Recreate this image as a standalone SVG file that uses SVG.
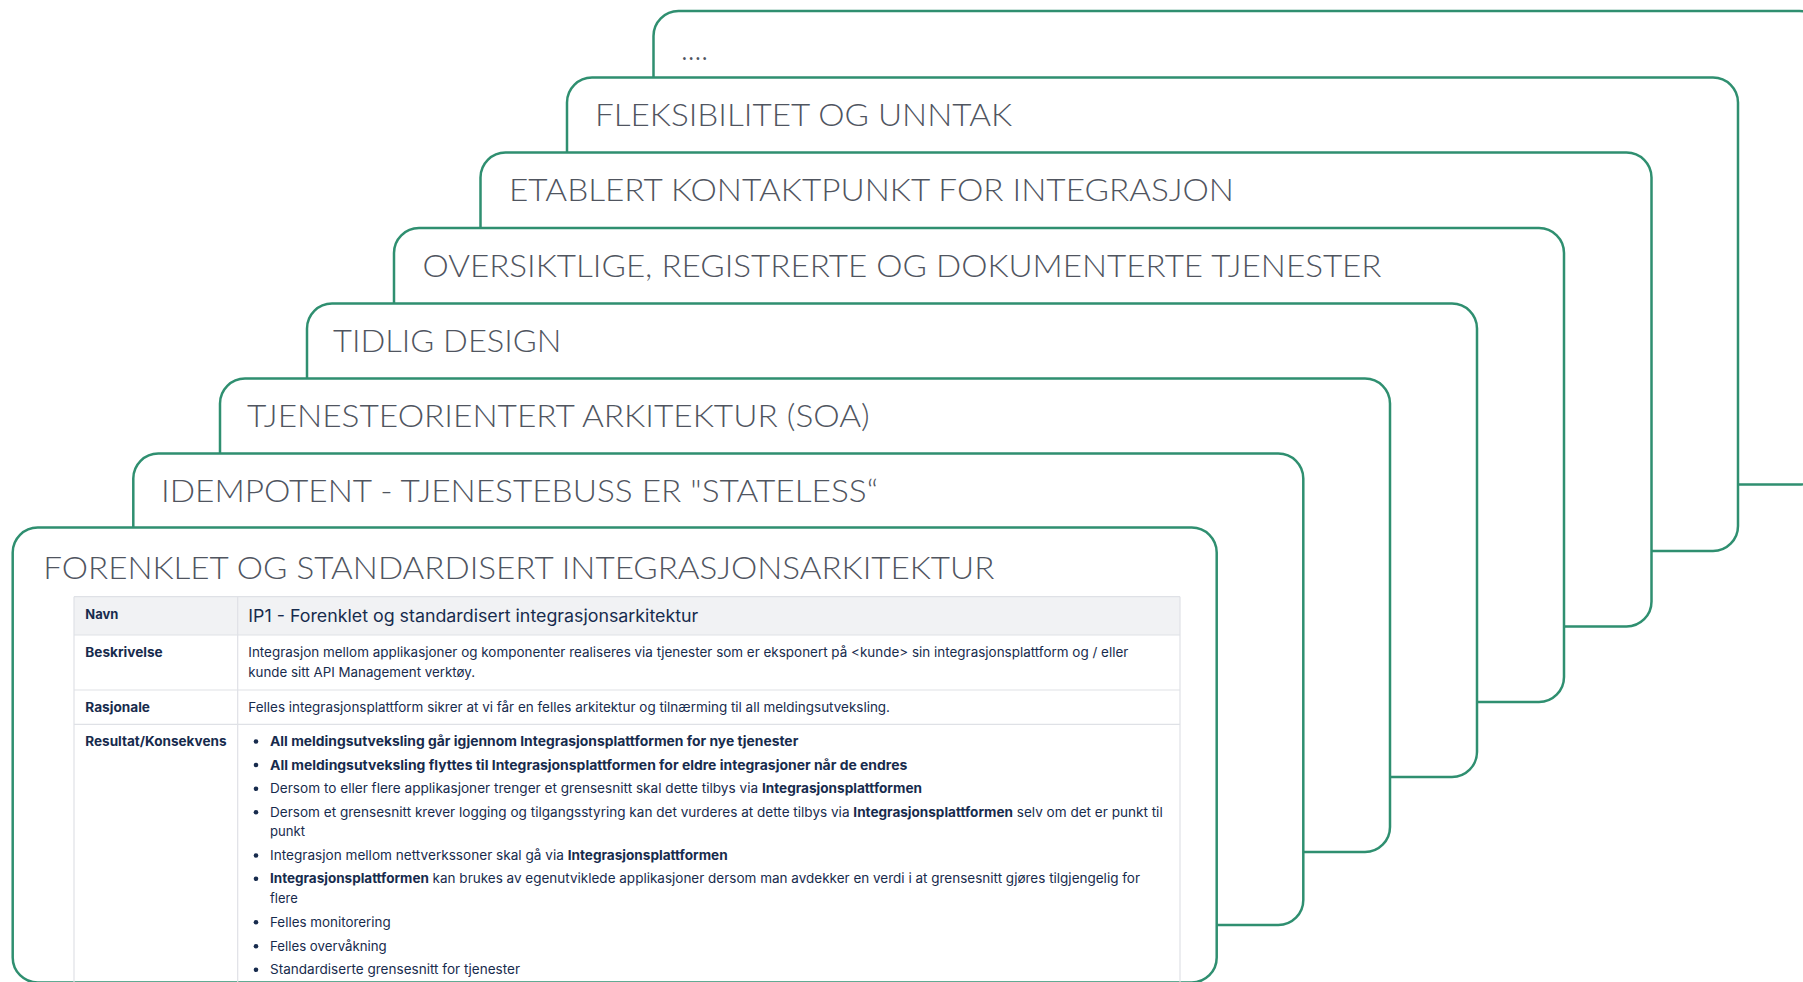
<svg xmlns="http://www.w3.org/2000/svg" width="1803" height="982" viewBox="0 0 1803 982">
<style>
.card{fill:#ffffff;stroke:#2f8f70;stroke-width:2.5}
.title{font-family:Lato,"Open Sans","Liberation Sans",sans-serif;font-weight:300;font-size:32px;fill:#50555f}
.tb{font-family:Inter,"Liberation Sans",sans-serif;font-size:13px;fill:#172b4d}
.b{font-weight:700}
.lbl{font-family:Inter,"Liberation Sans",sans-serif;font-size:13px;font-weight:700;fill:#172b4d}
.hd{font-family:Inter,"Liberation Sans",sans-serif;font-size:17px;fill:#172b4d}
.grid{stroke:#dfe1e6;stroke-width:1.2;fill:none}
.dot{fill:#172b4d}
</style>
<rect width="1803" height="982" fill="#ffffff"/>

<g id="card-more">
<rect class="card" x="653.5" y="11" width="1171" height="473.5" rx="25"/>
<text class="title" x="681" y="60" textLength="27" lengthAdjust="spacingAndGlyphs">....</text>
</g>

<g id="card-fleksibilitet">
<rect class="card" x="567" y="77.5" width="1171" height="473.5" rx="25"/>
<text class="title" x="595" y="126" textLength="417" lengthAdjust="spacingAndGlyphs">FLEKSIBILITET OG UNNTAK</text>
</g>

<g id="card-kontaktpunkt">
<rect class="card" x="480.5" y="152.5" width="1171" height="474" rx="25"/>
<text class="title" x="509" y="201" textLength="725" lengthAdjust="spacingAndGlyphs">ETABLERT KONTAKTPUNKT FOR INTEGRASJON</text>
</g>

<g id="card-oversiktlige">
<rect class="card" x="394" y="228" width="1170" height="474" rx="25"/>
<text class="title" x="422.5" y="277" textLength="959" lengthAdjust="spacingAndGlyphs">OVERSIKTLIGE, REGISTRERTE OG DOKUMENTERTE TJENESTER</text>
</g>

<g id="card-tidlig">
<rect class="card" x="307" y="303.5" width="1170" height="473.5" rx="25"/>
<text class="title" x="333" y="352" textLength="228.5" lengthAdjust="spacingAndGlyphs">TIDLIG DESIGN</text>
</g>

<g id="card-soa">
<rect class="card" x="220" y="378.5" width="1170" height="473.5" rx="25"/>
<text class="title" x="247" y="427" textLength="622.7" lengthAdjust="spacingAndGlyphs">TJENESTEORIENTERT ARKITEKTUR (SOA)</text>
</g>

<g id="card-idempotent">
<rect class="card" x="133.3" y="453.5" width="1170" height="471.5" rx="25"/>
<text class="title" x="161" y="502" textLength="717" lengthAdjust="spacingAndGlyphs">IDEMPOTENT - TJENESTEBUSS ER "STATELESS“</text>
</g>

<g id="card-forenklet">
<rect class="card" x="12.7" y="527.5" width="1204" height="455" rx="25"/>
<text class="title" x="43.3" y="579.3" textLength="951" lengthAdjust="spacingAndGlyphs">FORENKLET OG STANDARDISERT INTEGRASJONSARKITEKTUR</text>

<g id="table">
<rect x="74" y="596.7" width="1106" height="38.3" fill="#f1f2f4"/>
<path class="grid" d="M74 596.7H1180 M74 635H1180 M74 690H1180 M74 724.3H1180 M74 596.7V982 M237.7 596.7V982 M1180 596.7V982"/>

<text class="lbl" x="85.3" y="619" font-size="12.5" textLength="33" lengthAdjust="spacingAndGlyphs">Navn</text>
<text class="hd" x="248.3" y="621.7" textLength="450" lengthAdjust="spacingAndGlyphs">IP1 - Forenklet og standardisert integrasjonsarkitektur</text>

<text class="lbl" x="85.3" y="657.3" textLength="77.4" lengthAdjust="spacingAndGlyphs">Beskrivelse</text>
<text class="tb" x="248.3" y="657.3" textLength="880" lengthAdjust="spacingAndGlyphs">Integrasjon mellom applikasjoner og komponenter realiseres via tjenester som er eksponert på &lt;kunde&gt; sin integrasjonsplattform  og / eller</text>
<text class="tb" x="248.3" y="677.3" textLength="226.7" lengthAdjust="spacingAndGlyphs">kunde sitt API Management verktøy.</text>

<text class="lbl" x="85.3" y="711.7" textLength="64.7" lengthAdjust="spacingAndGlyphs">Rasjonale</text>
<text class="tb" x="248.3" y="711.7" textLength="641.7" lengthAdjust="spacingAndGlyphs">Felles integrasjonsplattform sikrer at vi får en felles arkitektur og tilnærming til all meldingsutveksling.</text>

<text class="lbl" x="85.3" y="746" textLength="141.2" lengthAdjust="spacingAndGlyphs">Resultat/Konsekvens</text>

<g id="bullets">
<circle class="dot" cx="256" cy="741.5" r="2.3"/>
<text class="tb b" x="270" y="746" textLength="528.3" lengthAdjust="spacingAndGlyphs">All meldingsutveksling går igjennom Integrasjonsplattformen for nye tjenester</text>
<circle class="dot" cx="256" cy="765" r="2.3"/>
<text class="tb b" x="270" y="769.5" textLength="637.3" lengthAdjust="spacingAndGlyphs">All meldingsutveksling flyttes til Integrasjonsplattformen for eldre integrasjoner når de endres</text>
<circle class="dot" cx="256" cy="788.8" r="2.3"/>
<text class="tb" x="270" y="793.3" textLength="652" lengthAdjust="spacingAndGlyphs">Dersom to eller flere applikasjoner trenger et grensesnitt skal dette tilbys via <tspan class="b">Integrasjonsplattformen</tspan></text>
<circle class="dot" cx="256" cy="812.2" r="2.3"/>
<text class="tb" x="270" y="816.7" textLength="892.7" lengthAdjust="spacingAndGlyphs">Dersom et grensesnitt krever logging og tilgangsstyring kan det vurderes at dette tilbys via <tspan class="b">Integrasjonsplattformen</tspan> selv om det er punkt til</text>
<text class="tb" x="270" y="836.3" textLength="35" lengthAdjust="spacingAndGlyphs">punkt</text>
<circle class="dot" cx="256" cy="855.5" r="2.3"/>
<text class="tb" x="270" y="860" textLength="457.7" lengthAdjust="spacingAndGlyphs">Integrasjon mellom nettverkssoner skal gå via <tspan class="b">Integrasjonsplattformen</tspan></text>
<circle class="dot" cx="256" cy="878.8" r="2.3"/>
<text class="tb" x="270" y="883.3" textLength="870" lengthAdjust="spacingAndGlyphs"><tspan class="b">Integrasjonsplattformen</tspan> kan brukes av egenutviklede applikasjoner dersom man avdekker en verdi i at grensesnitt gjøres tilgjengelig for</text>
<text class="tb" x="270" y="902.7" textLength="27.7" lengthAdjust="spacingAndGlyphs">flere</text>
<circle class="dot" cx="256" cy="922.2" r="2.3"/>
<text class="tb" x="270" y="926.7" textLength="120.7" lengthAdjust="spacingAndGlyphs">Felles monitorering</text>
<circle class="dot" cx="256" cy="946.2" r="2.3"/>
<text class="tb" x="270" y="950.7" textLength="116.7" lengthAdjust="spacingAndGlyphs">Felles overvåkning</text>
<circle class="dot" cx="256" cy="969.8" r="2.3"/>
<text class="tb" x="270" y="974.3" textLength="250" lengthAdjust="spacingAndGlyphs">Standardiserte grensesnitt for tjenester</text>
</g>
</g>
</g>
</svg>
